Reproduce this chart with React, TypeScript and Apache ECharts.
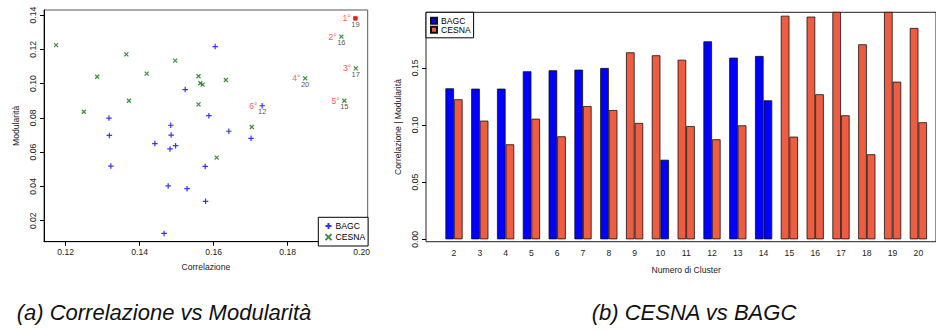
import React, { useEffect, useRef } from "react";
import * as echarts from "echarts";

// ---- Scatter data (Correlazione, Modularità) ----
const bagcCorr = [0.1523, 0.1317, 0.1484, 0.1318, 0.1485, 0.1441, 0.1482, 0.1497, 0.1322, 0.1477, 0.1528, 0.1466, 0.1604, 0.1587, 0.1641, 0.1701, 0.1577, 0.1578, 0.1731];
const bagcMod = [0.0965, 0.0799, 0.0757, 0.0698, 0.0700, 0.0650, 0.0619, 0.0638, 0.0519, 0.0403, 0.0387, 0.0126, 0.1216, 0.0813, 0.0722, 0.0681, 0.0517, 0.0313, 0.0871];
const cesnaCorr = [0.1174, 0.1364, 0.1496, 0.1285, 0.1419, 0.1559, 0.1564, 0.1570, 0.1371, 0.1559, 0.1249, 0.1633, 0.1703, 0.1608, 0.1945, 0.1984, 0.1847, 0.1953, 0.1983];
const cesnaMod = [0.1225, 0.1171, 0.1134, 0.1040, 0.1058, 0.1043, 0.1002, 0.0994, 0.0900, 0.0879, 0.0836, 0.1021, 0.0747, 0.0568, 0.1274, 0.1089, 0.1031, 0.0900, 0.1381];

const topRanks = ["1°", "2°", "3°", "4°", "5°", "6°"];
const topClusters = ["19", "16", "17", "20", "15", "12"];
const topCorr = [0.1983, 0.1945, 0.1984, 0.1847, 0.1953, 0.1731];
const topMod = [0.1381, 0.1274, 0.1089, 0.1031, 0.0900, 0.0871];

const scatterXTicks = [0.12, 0.14, 0.16, 0.18, 0.2];
const scatterYTicks = [0.02, 0.04, 0.06, 0.08, 0.1, 0.12, 0.14];

// ---- Bar data ----
const clusters = ["2", "3", "4", "5", "6", "7", "8", "9", "10", "11", "12", "13", "14", "15", "16", "17", "18", "19", "20"];
const bestCorr = [0.1321, 0.1318, 0.1318, 0.147, 0.1479, 0.1484, 0.1499, 0.1636, 0.161, 0.1571, 0.1732, 0.1589, 0.1604, 0.1956, 0.1948, 0.199, 0.1706, 0.199, 0.1849];
const bestCorrBy = ["BAGC", "BAGC", "BAGC", "BAGC", "BAGC", "BAGC", "BAGC", "CESNA", "CESNA", "CESNA", "BAGC", "BAGC", "BAGC", "CESNA", "CESNA", "CESNA", "CESNA", "CESNA", "CESNA"];
const bestMod = [0.1225, 0.1038, 0.0831, 0.1055, 0.0901, 0.1166, 0.1131, 0.1018, 0.0696, 0.0991, 0.0875, 0.0997, 0.1216, 0.0898, 0.1269, 0.1085, 0.0744, 0.1379, 0.1024];
const bestModBy = ["CESNA", "CESNA", "CESNA", "CESNA", "CESNA", "CESNA", "CESNA", "CESNA", "BAGC", "CESNA", "CESNA", "CESNA", "BAGC", "CESNA", "CESNA", "CESNA", "CESNA", "CESNA", "CESNA"];
const barYTicks = [0, 0.05, 0.1, 0.15];

const FONT = "'Liberation Sans', Arial, Helvetica, sans-serif";
const BLUE = "#0000ff";
const GREEN = "#0b700b";
const TOMATO = "#ee5c42";
const PLUS = "path://M5 0L5 10M0 5L10 5";
const CROSS = "path://M0 0L10 10M0 10L10 0";

const pick = (vals: number[], by: string[], who: string) =>
  vals.map((v, i) => (by[i] === who ? v : "-"));

const small = { fontFamily: FONT, fontSize: 8.6, color: "#222" };

function buildOption() {
  return {
    animation: false,
    grid: [
      { left: 44, top: 10, width: 323.7, height: 231.7, show: true, borderColor: "#555", borderWidth: 1, backgroundColor: "transparent" },
      { left: 426, top: 12.3, width: 521, height: 229.4, show: true, borderColor: "#222", borderWidth: 1, backgroundColor: "transparent" },
      { left: 441.1, top: 12.3, width: 490.2, height: 229.4 },
    ],
    xAxis: [
      {
        gridIndex: 0, type: "value", min: 0.11414, max: 0.20162,
        splitLine: { show: false },
        axisLine: { show: true, onZero: false, lineStyle: { color: "#000", width: 1 } },
        axisTick: { show: true, length: 4, customValues: scatterXTicks, lineStyle: { color: "#000" } },
        axisLabel: { ...small, customValues: scatterXTicks, margin: 6, formatter: (v: number) => v.toFixed(2) },
        name: "Correlazione", nameLocation: "middle", nameGap: 21,
        nameTextStyle: { ...small },
      },
      { gridIndex: 1, type: "value", show: false, min: 0, max: 1 },
      {
        gridIndex: 2, type: "category", data: clusters,
        axisLine: { show: false }, axisTick: { show: false }, splitLine: { show: false },
        axisLabel: { ...small, margin: 7, interval: 0 },
        name: "Numero di Cluster", nameLocation: "middle", nameGap: 23.5,
        nameTextStyle: { ...small },
      },
    ],
    yAxis: [
      {
        gridIndex: 0, type: "value", min: 0.00776, max: 0.14296,
        splitLine: { show: false },
        axisLine: { show: true, onZero: false, lineStyle: { color: "#000", width: 1 } },
        axisTick: { show: true, length: 4, customValues: scatterYTicks, lineStyle: { color: "#000" } },
        axisLabel: { ...small, customValues: scatterYTicks, margin: 7, rotate: 90, formatter: (v: number) => v.toFixed(2) },
        name: "Modularità", nameLocation: "middle", nameGap: 24,
        nameTextStyle: { ...small },
      },
      { gridIndex: 1, type: "value", show: false, min: 0, max: 1 },
      {
        gridIndex: 2, type: "value", min: -0.0021, max: 0.1986, offset: 15.1,
        splitLine: { show: false },
        axisLine: { show: false },
        axisTick: { show: true, length: 4, customValues: barYTicks, lineStyle: { color: "#000" } },
        axisLabel: { ...small, customValues: barYTicks, margin: 7, rotate: 90, formatter: (v: number) => v.toFixed(2) },
        name: "Correlazione | Modularità", nameLocation: "middle", nameGap: 24,
        nameTextStyle: { ...small },
      },
    ],
    legend: [
      {
        data: ["BAGC", "CESNA"], orient: "vertical", left: 318.3, top: 217.3,
        itemWidth: 6, itemHeight: 6, itemGap: 0, padding: [3.3, 3, 3.4, 4.7],
        borderColor: "#000", borderWidth: 1, backgroundColor: "#fff",
        selectedMode: false,
        textStyle: { fontFamily: FONT, fontSize: 8.6, lineHeight: 8.7, color: "#000", padding: [0, 0, 0, -1] },
      },
      {
        data: ["bar-BAGC", "bar-CESNA"], orient: "vertical", left: 426, top: 12.3,
        icon: "rect", itemWidth: 6, itemHeight: 6, itemGap: 0, padding: [4, 3, 3.5, 4],
        borderColor: "#000", borderWidth: 1, backgroundColor: "#fff",
        selectedMode: false,
        formatter: (n: string) => n.replace("bar-", ""),
        textStyle: { fontFamily: FONT, fontSize: 8.6, lineHeight: 8.3, color: "#000", padding: [0, 0, 0, -1] },
      },
    ],
    series: [
      {
        name: "BAGC", type: "scatter", xAxisIndex: 0, yAxisIndex: 0,
        symbol: PLUS, symbolSize: 5.5,
        itemStyle: { color: "none", borderColor: BLUE, borderWidth: 1.2 },
        data: bagcCorr.map((x, i) => [x, bagcMod[i]]),
      },
      {
        name: "CESNA", type: "scatter", xAxisIndex: 0, yAxisIndex: 0,
        symbol: CROSS, symbolSize: 4,
        itemStyle: { color: "none", borderColor: GREEN, borderWidth: 1.2 },
        data: cesnaCorr.map((x, i) => [x, cesnaMod[i]]),
      },
      {
        name: "best", type: "scatter", xAxisIndex: 0, yAxisIndex: 0,
        symbol: "circle", symbolSize: 5, silent: true,
        itemStyle: { color: "#ff0000" },
        data: [[topCorr[0], topMod[0]]],
      },
      {
        name: "ranks", type: "scatter", xAxisIndex: 0, yAxisIndex: 0,
        symbol: "circle", symbolSize: 0.01, silent: true,
        itemStyle: { color: "transparent" },
        label: {
          show: true, position: "left", distance: 4.6,
          formatter: (p: any) => topRanks[p.dataIndex],
          fontFamily: FONT, fontSize: 8.6, color: "#ff2a2a",
        },
        data: topCorr.map((x, i) => [x, topMod[i]]),
      },
      {
        name: "numbers", type: "scatter", xAxisIndex: 0, yAxisIndex: 0,
        symbol: "circle", symbolSize: 0.01, silent: true,
        itemStyle: { color: "transparent" },
        label: {
          show: true, position: "bottom", distance: 1.5,
          formatter: (p: any) => topClusters[p.dataIndex],
          fontFamily: FONT, fontSize: 7.5, lineHeight: 8.5, color: "#222",
        },
        data: topCorr.map((x, i) => [x, topMod[i]]),
      },
      {
        name: "bar-BAGC", type: "bar", xAxisIndex: 2, yAxisIndex: 2, stack: "corr",
        barWidth: 8.6, barGap: "0%",
        itemStyle: { color: BLUE, borderColor: "#111", borderWidth: 0.8 },
        data: pick(bestCorr, bestCorrBy, "BAGC"),
      },
      {
        name: "bar-CESNA", type: "bar", xAxisIndex: 2, yAxisIndex: 2, stack: "corr",
        barWidth: 8.6, barGap: "0%",
        itemStyle: { color: TOMATO, borderColor: "#111", borderWidth: 0.8 },
        data: pick(bestCorr, bestCorrBy, "CESNA"),
      },
      {
        name: "bar-BAGC", type: "bar", xAxisIndex: 2, yAxisIndex: 2, stack: "mod",
        barWidth: 8.6, barGap: "0%",
        itemStyle: { color: BLUE, borderColor: "#111", borderWidth: 0.8 },
        data: pick(bestMod, bestModBy, "BAGC"),
      },
      {
        name: "bar-CESNA", type: "bar", xAxisIndex: 2, yAxisIndex: 2, stack: "mod",
        barWidth: 8.6, barGap: "0%",
        itemStyle: { color: TOMATO, borderColor: "#111", borderWidth: 0.8 },
        data: pick(bestMod, bestModBy, "CESNA"),
      },
    ],
    graphic: [
      {
        type: "text", x: 164, y: 312, silent: true,
        style: {
          text: "(a) Correlazione vs Modularità", align: "center", verticalAlign: "middle",
          textAlign: "center", textVerticalAlign: "middle",
          font: `italic 22px ${FONT}`, fill: "#111",
        },
      },
      {
        type: "text", x: 694, y: 312, silent: true,
        style: {
          text: "(b) CESNA vs BAGC", align: "center", verticalAlign: "middle",
          textAlign: "center", textVerticalAlign: "middle",
          font: `italic 22px ${FONT}`, fill: "#111",
        },
      },
    ],
  };
}

export default function App() {
  const ref = useRef<HTMLDivElement>(null);
  useEffect(() => {
    if (!ref.current) return;
    const chart = echarts.init(ref.current, undefined, { renderer: "svg" });
    chart.setOption(buildOption() as any);
    return () => chart.dispose();
  }, []);
  return (
    <div
      ref={ref}
      style={{ position: "absolute", left: 0, top: 0, width: 936, height: 331, background: "#fff" }}
    />
  );
}
